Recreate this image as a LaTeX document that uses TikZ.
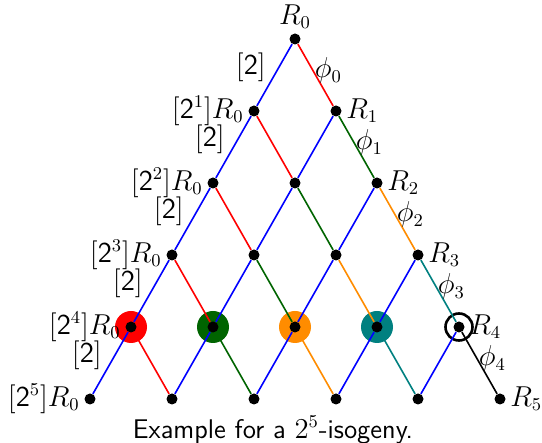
\documentclass[tikz,border=0pt]{standalone}
\usepackage{amsmath}
\usepackage{xcolor}
\usetikzlibrary{positioning, backgrounds}

\definecolor{isored}{RGB}{255,0,0}
\definecolor{isogreen}{RGB}{0,100,0}
\definecolor{isoorange}{RGB}{255,140,0}
\definecolor{isoteal}{RGB}{0,128,128}

\begin{document}
\begin{tikzpicture}[
    x=0.5pt, y=-0.5pt,
    on grid,
    node distance=36pt and 20.5pt,
    vertex/.style={circle, fill=black, inner sep=0pt, minimum size=5.5pt},
    blob/.style={circle, fill=#1, inner sep=0pt, minimum size=16pt},
    hollow/.style={circle, draw=black, fill=white, line width=1.3pt, inner sep=0pt, minimum size=13.5pt},
    lbl/.style={font=\fontsize{13.5}{16}\selectfont, inner sep=2pt},
    dbllbl/.style={font=\fontsize{13.5}{16}\selectfont, text=black, inner sep=1.5pt, left=2.5pt, yshift=4pt},
    philbl/.style={font=\fontsize{13.5}{16}\selectfont, text=black, inner sep=0.5pt, right, pos=0.43},
    dbl/.style={blue, thick},
    iso/.style={#1, thick},
    caption/.style={font=\fontsize{13.5}{16}\selectfont\sffamily},
]
    \useasboundingbox (0,0) rectangle (542,443);

    % Row 0
    \node[vertex, label={[lbl]above:$R_0$}] (r00) at (295,39) {};

    % Row 1
    \node[vertex, below left=of r00, label={[lbl]left:$[\mathsf{2}^1]R_0$}] (r10) {};
    \node[vertex, below right=of r00, label={[lbl]right:$R_1$}] (r11) {};

    % Row 2
    \node[vertex, below left=of r10, label={[lbl]left:$[\mathsf{2}^2]R_0$}] (r20) {};
    \node[vertex, below right=of r10] (r21) {};
    \node[vertex, below right=of r11, label={[lbl]right:$R_2$}] (r22) {};

    % Row 3
    \node[vertex, below left=of r20, label={[lbl]left:$[\mathsf{2}^3]R_0$}] (r30) {};
    \node[vertex, below right=of r20] (r31) {};
    \node[vertex, below right=of r21] (r32) {};
    \node[vertex, below right=of r22, label={[lbl]right:$R_3$}] (r33) {};

    % Row 4
    \node[vertex, below left=of r30, label={[lbl]left:$[\mathsf{2}^4]R_0$}] (r40) {};
    \node[vertex, below right=of r30] (r41) {};
    \node[vertex, below right=of r31] (r42) {};
    \node[vertex, below right=of r32] (r43) {};
    \node[vertex, below right=of r33, label={[lbl]right:$R_4$}] (r44) {};

    % Row 5
    \node[vertex, below left=of r40, label={[lbl]left:$[\mathsf{2}^5]R_0$}] (r50) {};
    \node[vertex, below right=of r40] (r51) {};
    \node[vertex, below right=of r41] (r52) {};
    \node[vertex, below right=of r42] (r53) {};
    \node[vertex, below right=of r43] (r54) {};
    \node[vertex, below right=of r44, label={[lbl]right:$R_5$}] (r55) {};

    % Markers behind row 4
    \begin{scope}[on background layer]
        \node[blob=isored] (m40) at (r40) {};
        \node[blob=isogreen] (m41) at (r41) {};
        \node[blob=isoorange] (m42) at (r42) {};
        \node[blob=isoteal] (m43) at (r43) {};
        \node[hollow] (m44) at (r44) {};
    \end{scope}

    % Multiplication by 2
    \draw[dbl] (r00) -- node[dbllbl] {$[\mathsf{2}]$} (r10);
    \draw[dbl] (r10) -- node[dbllbl] {$[\mathsf{2}]$} (r20);
    \draw[dbl] (r20) -- node[dbllbl] {$[\mathsf{2}]$} (r30);
    \draw[dbl] (r30) -- node[dbllbl] {$[\mathsf{2}]$} (r40);
    \draw[dbl] (r40) -- node[dbllbl] {$[\mathsf{2}]$} (r50);
    \draw[dbl] (r11) -- (r21);
    \draw[dbl] (r21) -- (r31);
    \draw[dbl] (r31) -- (r41);
    \draw[dbl] (r41) -- (r51);
    \draw[dbl] (r22) -- (r32);
    \draw[dbl] (r32) -- (r42);
    \draw[dbl] (r42) -- (r52);
    \draw[dbl] (r33) -- (r43);
    \draw[dbl] (r43) -- (r53);
    \draw[dbl] (r44) -- (r54);

    % Isogenies
    \draw[iso=isored] (r00) -- node[philbl] {$\phi_0$} (r11);
    \draw[iso=isored] (r10) -- (r21);
    \draw[iso=isored] (r20) -- (r31);
    \draw[iso=isored] (r30) -- (r41);
    \draw[iso=isored] (r40) -- (r51);
    \draw[iso=isogreen] (r11) -- node[philbl] {$\phi_1$} (r22);
    \draw[iso=isogreen] (r21) -- (r32);
    \draw[iso=isogreen] (r31) -- (r42);
    \draw[iso=isogreen] (r41) -- (r52);
    \draw[iso=isoorange] (r22) -- node[philbl] {$\phi_2$} (r33);
    \draw[iso=isoorange] (r32) -- (r43);
    \draw[iso=isoorange] (r42) -- (r53);
    \draw[iso=isoteal] (r33) -- node[philbl] {$\phi_3$} (r44);
    \draw[iso=isoteal] (r43) -- (r54);
    \draw[iso=black] (r44) -- node[philbl] {$\phi_4$} (r55);

    % Caption
    \node[caption] (cap) at (273,430) {Example for a $2^5$-isogeny.};
\end{tikzpicture}
\end{document}
